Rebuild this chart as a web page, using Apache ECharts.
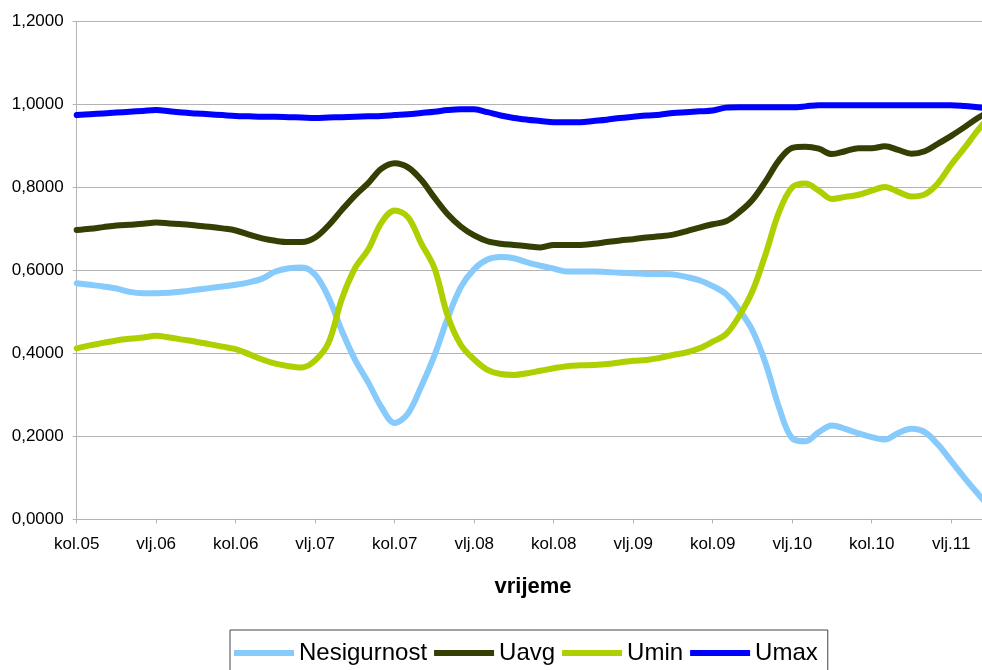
<!DOCTYPE html>
<html>
<head>
<meta charset="utf-8">
<script src="https://cdn.jsdelivr.net/npm/echarts@6/dist/echarts.min.js"></script>
<style>
html,body{margin:0;padding:0;background:#fff;overflow:hidden;width:982px;height:670px;}
#chart{width:1000px;height:670px;}
</style>
</head>
<body>
<div id="chart"></div>
<script>
// Monthly categories from kol.05 (Aug 2005) onward
const categories = [
 'kol.05','ruj.05','lis.05','stu.05','pro.05',
 'sij.06','vlj.06','ožu.06','tra.06','svi.06','lip.06','srp.06','kol.06','ruj.06','lis.06','stu.06','pro.06',
 'sij.07','vlj.07','ožu.07','tra.07','svi.07','lip.07','srp.07','kol.07','ruj.07','lis.07','stu.07','pro.07',
 'sij.08','vlj.08','ožu.08','tra.08','svi.08','lip.08','srp.08','kol.08','ruj.08','lis.08','stu.08','pro.08',
 'sij.09','vlj.09','ožu.09','tra.09','svi.09','lip.09','srp.09','kol.09','ruj.09','lis.09','stu.09','pro.09',
 'sij.10','vlj.10','ožu.10','tra.10','svi.10','lip.10','srp.10','kol.10','ruj.10','lis.10','stu.10','pro.10',
 'sij.11','vlj.11','ožu.11','tra.11','svi.11'
];

const yTicks = [0, 0.2, 0.4, 0.6, 0.8, 1.0, 1.2];

const nesigurnost = [
 0.569,0.565,0.561,0.556,0.548,0.545,0.545,0.546,0.549,0.553,0.557,0.561,
 0.565,0.571,0.580,0.597,0.605,0.607,0.589,0.535,0.455,0.385,0.330,0.270,
 0.232,0.255,0.320,0.395,0.485,0.560,0.603,0.626,0.632,0.629,0.619,0.611,
 0.604,0.597,0.597,0.597,0.596,0.594,0.593,0.591,0.591,0.590,0.584,0.576,
 0.562,0.543,0.505,0.455,0.375,0.270,0.195,0.188,0.210,0.226,0.218,0.207,
 0.198,0.192,0.208,0.218,0.210,0.180,0.140,0.100,0.062,0.025
];
const uavg = [
 0.697,0.700,0.704,0.708,0.710,0.712,0.715,0.713,0.711,0.708,0.705,0.701,
 0.696,0.686,0.677,0.671,0.668,0.668,0.679,0.708,0.745,0.780,0.810,0.845,
 0.858,0.848,0.818,0.775,0.735,0.705,0.684,0.670,0.664,0.661,0.658,0.655,
 0.661,0.661,0.661,0.664,0.668,0.672,0.675,0.679,0.682,0.686,0.694,0.703,
 0.711,0.718,0.740,0.770,0.815,0.865,0.895,0.898,0.893,0.880,0.887,0.894,
 0.894,0.899,0.890,0.881,0.887,0.905,0.924,0.945,0.967,0.985
];
const umin = [
 0.412,0.419,0.425,0.431,0.435,0.438,0.442,0.438,0.433,0.428,0.422,0.416,
 0.410,0.398,0.385,0.375,0.369,0.366,0.383,0.425,0.530,0.605,0.650,0.715,
 0.744,0.728,0.665,0.605,0.490,0.420,0.385,0.360,0.350,0.348,0.352,0.358,
 0.364,0.369,0.371,0.372,0.374,0.378,0.382,0.384,0.389,0.396,0.402,0.412,
 0.428,0.446,0.490,0.550,0.640,0.740,0.800,0.809,0.792,0.772,0.777,0.782,
 0.792,0.801,0.789,0.778,0.783,0.810,0.855,0.895,0.937,0.975
];
const umax = [
 0.974,0.976,0.978,0.980,0.982,0.984,0.986,0.983,0.980,0.978,0.976,0.974,
 0.972,0.971,0.970,0.970,0.969,0.968,0.967,0.968,0.969,0.970,0.971,0.972,
 0.974,0.976,0.979,0.982,0.986,0.988,0.988,0.981,0.973,0.967,0.963,0.960,
 0.957,0.957,0.957,0.960,0.963,0.967,0.970,0.973,0.975,0.979,0.981,0.983,
 0.985,0.992,0.993,0.993,0.993,0.993,0.993,0.995,0.998,0.998,0.998,0.998,
 0.998,0.998,0.998,0.998,0.998,0.998,0.998,0.996,0.993,0.990
];

const seriesNames = ['Nesigurnost','Uavg','Umin','Umax'];
const seriesColors = ['#87CAFC','#333F03','#AECF00','#0000FF'];
const seriesData = [nesigurnost, uavg, umin, umax];

const FONT = '"Liberation Sans", Arial, sans-serif';

const chart = echarts.init(document.getElementById('chart'), null, {renderer:'canvas', width:1000, height:670});
const option = {
  animation: false,
  backgroundColor: '#ffffff',
  textStyle: {fontFamily: FONT},
  grid: {left: 76.7, top: 21.3, right: 9, bottom: 150.7, containLabel: false},
  title: {
    text: 'vrijeme',
    left: 528, top: 571,
    textAlign: 'center',
    textStyle: {fontFamily: FONT, fontSize: 22, fontWeight: 'bold', color: '#000'}
  },
  legend: {
    data: seriesNames,
    left: 230, top: 630,
    orient: 'horizontal',
    icon: 'rect',
    itemWidth: 60, itemHeight: 6,
    itemGap: 7,
    padding: [11, 10, 22, 4],
    borderColor: '#444', borderWidth: 1, borderRadius: 0,
    textStyle: {fontFamily: FONT, fontSize: 24, color: '#000'}
  },
  xAxis: {
    type: 'category',
    data: categories,
    boundaryGap: false,
    axisLine: {show: true, lineStyle: {color: '#b3b3b3', width: 1}},
    axisTick: {show: true, interval: 5, length: 4, lineStyle: {color: '#b3b3b3'}},
    axisLabel: {interval: 5, margin: 17, color: '#000', fontFamily: FONT, fontSize: 17},
    splitLine: {show: false}
  },
  yAxis: {
    type: 'value',
    min: yTicks[0], max: yTicks[yTicks.length-1], interval: 0.2,
    axisLine: {show: true, lineStyle: {color: '#b3b3b3', width: 1}},
    axisTick: {show: true, length: 4, lineStyle: {color: '#b3b3b3'}},
    axisLabel: {margin: 13, color: '#000', fontFamily: FONT, fontSize: 17,
      formatter: v => v.toFixed(4).replace('.', ',')},
    splitLine: {show: true, lineStyle: {color: '#b3b3b3', width: 1}}
  },
  series: seriesNames.map((n, k) => ({
    name: n,
    type: 'line',
    data: seriesData[k],
    smooth: 0.35,
    showSymbol: false,
    symbol: 'none',
    lineStyle: {color: seriesColors[k], width: 6, cap: 'round', join: 'round'},
    itemStyle: {color: seriesColors[k]},
    z: 2 + k
  }))
};
chart.setOption(option);
</script>
</body>
</html>
